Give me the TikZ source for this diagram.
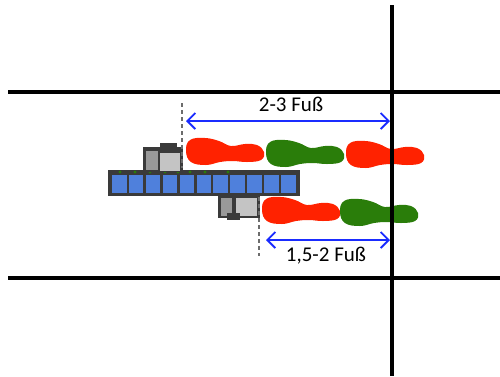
\documentclass[tikz,border=0pt]{standalone}
\usepackage{fontspec}
\setmainfont{Carlito}
\usetikzlibrary{arrows.meta}
\definecolor{footred}{HTML}{FF2200}
\definecolor{footgreen}{HTML}{2A7D0A}
\definecolor{dimblue}{HTML}{1A2CFF}
\definecolor{rungblue}{HTML}{4F80DC}
\definecolor{railgray}{HTML}{3A3A3A}
\definecolor{blockgray}{HTML}{C4C4C4}
\tikzset{
  gridline/.style={line width=3.2pt, black},
  dimline/.style={line width=1.8pt, dimblue, {Straight Barb[length=8pt,width=16pt,line width=1.8pt]}-{Straight Barb[length=8pt,width=16pt,line width=1.8pt]}},
  guide/.style={line width=1.3pt, gray!85!black, dash pattern=on 4pt off 3pt},
  dimlabel/.style={font=\fontsize{21}{24}\selectfont, inner sep=0pt},
  rung/.style={fill=rungblue, draw=none},
  foot/.pic={
    \fill[#1] plot[smooth cycle, tension=0.7] coordinates {
      (0,13) (4,2) (19,0) (33,3) (45,8) (59,6) (71,7) (78,14)
      (75,22) (61,24) (47,23) (34,24) (20,27) (5,24)};
  }
}
\begin{document}
\begin{tikzpicture}[x=1pt,y=-1pt]
\useasboundingbox (0,0) rectangle (500,376);
\fill[white] (0,0) rectangle (500,376);

% street grid
\coordinate (h1w) at (8,92);   \coordinate (h1e) at (500,92);
\coordinate (h2w) at (8,278);  \coordinate (h2e) at (500,278);
\coordinate (vn) at (392,5);   \coordinate (vs) at (392,376);
\draw[gridline] (h1w) -- (h1e);
\draw[gridline] (h2w) -- (h2e);

% footprints
\pic at (186,138) {foot=footred};
\pic at (266,140) {foot=footgreen};
\pic at (346,141) {foot=footred};
\pic at (262,197) {foot=footred};
\pic at (340,199) {foot=footgreen};

\draw[line width=4pt] (vn) -- (vs);

% ladder rail with rungs
\fill[railgray] (108,170) rectangle (300,196);
\foreach \i in {0,...,10} {
  \fill[rung] ({112+\i*16.9},175) rectangle ({112+\i*16.9+14.5},193);
}
\foreach \x in {120,135,150,165,178,190,205,228} {
  \fill[footgreen] (\x,172) circle (1.6pt);
}

% upper block
\fill[railgray] (143,147) rectangle (183,172);
\fill[gray!80] (146,151) rectangle (158,170);
\fill[blockgray] (160,153) rectangle (180,171);
\fill[railgray] (160,143) rectangle (177,148);

% lower block
\fill[railgray] (218,196) rectangle (260,218);
\fill[gray!80] (221,198) rectangle (232,216);
\fill[blockgray] (236,198) rectangle (257,216);
\fill[railgray] (227,213) rectangle (240,220);
\draw[railgray, line width=1.5pt] (233,196) -- (233,218);

% guides and dimensions
\coordinate (g1a) at (182,103); \coordinate (g1b) at (182,168);
\coordinate (g2a) at (259,197); \coordinate (g2b) at (259,256);
\draw[guide] (g1a) -- (g1b);
\draw[guide] (g2a) -- (g2b);

\coordinate (d1a) at (186,121); \coordinate (d1b) at (390,121);
\coordinate (d2a) at (266,240); \coordinate (d2b) at (390,240);
\draw[dimline] (d1a) -- (d1b);
\draw[dimline] (d2a) -- (d2b);

\node[dimlabel] (l1) at (291,104) {2-3 Fuß};
\node[dimlabel] (l2) at (326,256) {1,5-2 Fuß};
\end{tikzpicture}
\end{document}
